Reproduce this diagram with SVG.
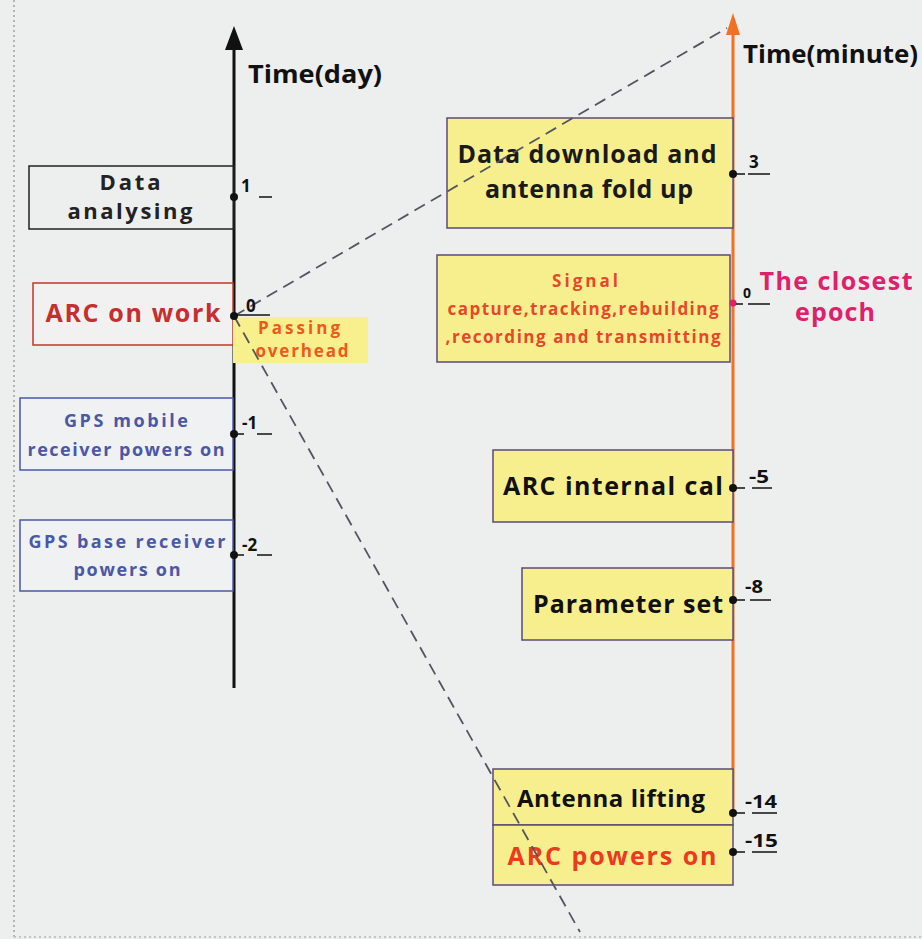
<svg xmlns="http://www.w3.org/2000/svg" width="922" height="939" viewBox="0 0 922 939">
<style>
text{font-family:"Open Sans","Liberation Sans",sans-serif;font-weight:bold}
.tk{font-size:17px;fill:#111}
.yb{fill:#f7ef8e;stroke:#5a4a7a;stroke-width:1.5}
.tl{stroke:#111;stroke-width:1.5}
.dash{stroke:#555560;stroke-width:1.8;stroke-dasharray:12 7;fill:none}
</style>
<rect width="922" height="939" fill="#edeeee"/>
<line x1="14" y1="0" x2="14" y2="939" stroke="#b5b5b5" stroke-width="2" stroke-dasharray="2 3"/>
<line x1="14" y1="937" x2="922" y2="937" stroke="#c5c5c5" stroke-width="2" stroke-dasharray="2 3"/>

<g id="axes">
<line x1="234" y1="40" x2="234" y2="688" stroke="#111" stroke-width="3"/>
<path d="M234,26 L243,50 L225,50 Z" fill="#111"/>
<line x1="733" y1="30" x2="733" y2="813" stroke="#f07024" stroke-width="3"/>
<path d="M733,13 L740,35 L726,35 Z" fill="#f07024"/>
<text x="248" y="83" font-size="25" fill="#111" textLength="134" lengthAdjust="spacingAndGlyphs">Time(day)</text>
<text x="743" y="63" font-size="25" fill="#111" textLength="175" lengthAdjust="spacingAndGlyphs">Time(minute)</text>
</g>

<g id="node-data-analysing">
<rect x="29" y="166" width="205" height="63" fill="none" stroke="#222" stroke-width="1.5"/>
<text x="130" y="190" font-size="22" fill="#222" text-anchor="middle" textLength="61" lengthAdjust="spacing">Data</text>
<text x="130" y="219" font-size="22" fill="#222" text-anchor="middle" textLength="125" lengthAdjust="spacing">analysing</text>
</g>

<g id="node-arc-on-work">
<rect x="33" y="283" width="200" height="62" fill="#f1f1f1" stroke="#c0392b" stroke-width="1.5"/>
<text x="133" y="322" font-size="25" fill="#c62f2f" text-anchor="middle" textLength="175" lengthAdjust="spacing">ARC on work</text>
</g>

<g id="node-passing-overhead">
<rect x="233" y="317" width="135" height="46" fill="#f8f08c"/>
<text x="299" y="334" font-size="17" fill="#ec5a1c" text-anchor="middle" textLength="82" lengthAdjust="spacing">Passing</text>
<text x="302" y="357" font-size="17" fill="#ec5a1c" text-anchor="middle" textLength="93" lengthAdjust="spacing">overhead</text>
</g>

<g id="node-gps-mobile">
<rect x="20" y="398" width="213" height="72" fill="#eff1f3" stroke="#4a58a6" stroke-width="1.5"/>
<text x="126" y="427" font-size="18" fill="#4a58a6" text-anchor="middle" textLength="124" lengthAdjust="spacing">GPS mobile</text>
<text x="126" y="456" font-size="18" fill="#4a58a6" text-anchor="middle" textLength="197" lengthAdjust="spacing">receiver powers on</text>
</g>

<g id="node-gps-base">
<rect x="20" y="520" width="213" height="71" fill="#eff1f3" stroke="#4a58a6" stroke-width="1.5"/>
<text x="127" y="548" font-size="18" fill="#4a58a6" text-anchor="middle" textLength="197" lengthAdjust="spacing">GPS base receiver</text>
<text x="127" y="576" font-size="18" fill="#4a58a6" text-anchor="middle" textLength="107" lengthAdjust="spacing">powers on</text>
</g>

<g id="node-data-download">
<rect class="yb" x="447" y="118" width="286" height="110"/>
<text x="587" y="163" font-size="25" fill="#1a1a1a" text-anchor="middle" textLength="259" lengthAdjust="spacing">Data download and</text>
<text x="589" y="198" font-size="25" fill="#1a1a1a" text-anchor="middle" textLength="208" lengthAdjust="spacing">antenna fold up</text>
</g>

<g id="node-signal">
<rect class="yb" x="437" y="255" width="293" height="107"/>
<text x="585" y="287" font-size="17" fill="#e6482a" text-anchor="middle" textLength="66" lengthAdjust="spacing">Signal</text>
<text x="583" y="315" font-size="17" fill="#e6482a" text-anchor="middle" textLength="271" lengthAdjust="spacing">capture,tracking,rebuilding</text>
<text x="583" y="343" font-size="17" fill="#e6482a" text-anchor="middle" textLength="275" lengthAdjust="spacing">,recording and transmitting</text>
</g>

<g id="node-arc-internal">
<rect class="yb" x="493" y="450" width="240" height="72"/>
<text x="613" y="495" font-size="25" fill="#111" text-anchor="middle" textLength="220" lengthAdjust="spacing">ARC internal cal</text>
</g>

<g id="node-parameter-set">
<rect class="yb" x="522" y="568" width="211" height="72"/>
<text x="628" y="613" font-size="25" fill="#111" text-anchor="middle" textLength="190" lengthAdjust="spacing">Parameter set</text>
</g>

<g id="node-antenna-lifting">
<rect class="yb" x="493" y="769" width="240" height="56"/>
<text x="611" y="807" font-size="24" fill="#111" text-anchor="middle" textLength="188" lengthAdjust="spacing">Antenna lifting</text>
</g>

<g id="node-arc-powers-on">
<rect class="yb" x="493" y="825" width="240" height="60"/>
<text x="612" y="865" font-size="25" fill="#ec3a1e" text-anchor="middle" textLength="209" lengthAdjust="spacing">ARC powers on</text>
</g>

<g id="node-closest-epoch">
<text x="836" y="290" font-size="25" fill="#e0206a" text-anchor="middle" textLength="153" lengthAdjust="spacing">The closest</text>
<text x="835" y="321" font-size="25" fill="#e0206a" text-anchor="middle" textLength="80" lengthAdjust="spacing">epoch</text>
</g>

<g id="connectors">
<line class="dash" x1="234" y1="316" x2="727" y2="28"/>
<line class="dash" x1="234" y1="316" x2="580" y2="932"/>
</g>

<g id="ticks-left">
<circle cx="234" cy="197" r="4" fill="#111"/>
<text class="tk" x="241" y="192">1</text>
<line class="tl" x1="259" y1="197" x2="272" y2="197"/>
<circle cx="234" cy="316" r="4" fill="#111"/>
<text class="tk" x="246" y="312">0</text>
<line class="tl" x1="234" y1="315" x2="270" y2="315"/>
<circle cx="234" cy="434" r="4" fill="#111"/>
<text class="tk" x="242" y="429">-1</text>
<line class="tl" x1="234" y1="434" x2="244" y2="434"/>
<line class="tl" x1="257" y1="434" x2="272" y2="434"/>
<circle cx="234" cy="555" r="4" fill="#111"/>
<text class="tk" x="242" y="551">-2</text>
<line class="tl" x1="234" y1="555" x2="244" y2="555"/>
<line class="tl" x1="257" y1="555" x2="272" y2="555"/>
</g>

<g id="ticks-right">
<circle cx="733" cy="174" r="4" fill="#111"/>
<line class="tl" x1="733" y1="174" x2="745" y2="174"/>
<text class="tk" x="749" y="168">3</text>
<line class="tl" x1="748" y1="174" x2="770" y2="174"/>
<circle cx="733" cy="303" r="3.5" fill="#e0206a"/>
<line class="tl" x1="736" y1="304" x2="743" y2="304"/>
<line class="tl" x1="748" y1="304" x2="770" y2="304"/>
<text x="743" y="298" font-size="14" fill="#111">0</text>
<circle cx="733" cy="488" r="4" fill="#111"/>
<line class="tl" x1="733" y1="488" x2="745" y2="488"/>
<text class="tk" x="749" y="483" textLength="20" lengthAdjust="spacingAndGlyphs">-5</text>
<line class="tl" x1="752" y1="488" x2="772" y2="488"/>
<circle cx="733" cy="600" r="4" fill="#111"/>
<line class="tl" x1="733" y1="600" x2="745" y2="600"/>
<text class="tk" x="745" y="593" textLength="18" lengthAdjust="spacingAndGlyphs">-8</text>
<line class="tl" x1="750" y1="600" x2="771" y2="600"/>
<circle cx="733" cy="813" r="4" fill="#111"/>
<line class="tl" x1="733" y1="813" x2="745" y2="813"/>
<text class="tk" x="745" y="808" textLength="32" lengthAdjust="spacingAndGlyphs">-14</text>
<line class="tl" x1="752" y1="813" x2="777" y2="813"/>
<circle cx="733" cy="852" r="4" fill="#111"/>
<line class="tl" x1="733" y1="852" x2="745" y2="852"/>
<text class="tk" x="745" y="847" textLength="33" lengthAdjust="spacingAndGlyphs">-15</text>
<line class="tl" x1="752" y1="852" x2="777" y2="852"/>
</g>
</svg>
